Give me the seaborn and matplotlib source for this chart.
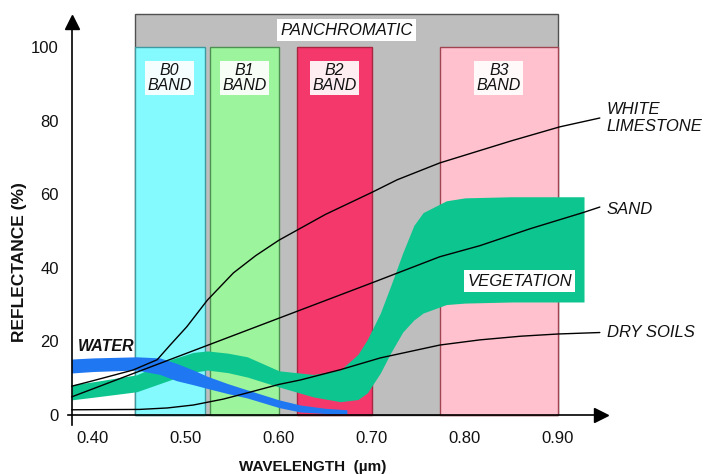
import matplotlib
matplotlib.use("Agg")
import matplotlib.pyplot as plt
import seaborn as sns
import pandas as pd

# ---------------- data ----------------
wavelength_ticks = [0.40, 0.50, 0.60, 0.70, 0.80, 0.90]
reflectance_ticks = [0, 20, 40, 60, 80, 100]

pan_start, pan_end, pan_top = 0.445, 0.900, 109
band_labels = ["B0\nBAND", "B1\nBAND", "B2\nBAND", "B3\nBAND"]
band_start = [0.445, 0.526, 0.619, 0.773]
band_end = [0.520, 0.600, 0.700, 0.900]
band_top = 100

veg_x = [0.377, 0.40, 0.447, 0.483, 0.508, 0.523, 0.545, 0.566, 0.60, 0.637, 0.666,
         0.685, 0.695, 0.709, 0.72, 0.733, 0.745, 0.755, 0.78, 0.80, 0.85, 0.928]
veg_upper = [8.2, 9.0, 10.9, 15.0, 17.0, 17.4, 16.8, 15.8, 12.0, 11.0, 12.2,
             16.5, 20.5, 27.7, 35.0, 44.0, 51.5, 55.0, 58.2, 59.0, 59.3, 59.3]
veg_lower = [4.1, 4.8, 6.3, 9.5, 11.6, 12.2, 11.5, 10.3, 7.6, 4.9, 3.6,
             4.2, 6.0, 11.4, 16.8, 22.5, 25.8, 27.7, 30.0, 30.4, 30.7, 30.7]

water_x = [0.377, 0.40, 0.447, 0.472, 0.49, 0.508, 0.523, 0.545, 0.566, 0.60, 0.623, 0.65, 0.673]
water_upper = [15.2, 15.5, 15.8, 15.5, 14.0, 12.2, 10.5, 8.5, 6.8, 4.1, 2.7, 1.8, 1.4]
water_lower = [11.4, 11.8, 12.2, 11.0, 9.3, 8.2, 7.2, 5.8, 4.6, 2.0, 0.8, 0.4, 0.3]

limestone_x = [0.377, 0.40, 0.443, 0.469, 0.483, 0.501, 0.523, 0.551, 0.575, 0.60,
               0.65, 0.70, 0.727, 0.773, 0.85, 0.902, 0.945]
limestone_y = [7.8, 9.3, 12.2, 15.0, 19.0, 24.0, 31.2, 38.6, 43.3, 47.5,
               54.5, 60.5, 63.9, 68.5, 74.5, 78.3, 80.7]

sand_x = [0.377, 0.45, 0.50, 0.55, 0.60, 0.65, 0.70, 0.773, 0.816, 0.87, 0.927, 0.945]
sand_y = [4.9, 11.9, 16.7, 21.5, 26.3, 31.1, 35.9, 43.0, 46.0, 50.6, 55.0, 56.5]

soil_x = [0.377, 0.45, 0.48, 0.508, 0.54, 0.566, 0.60, 0.623, 0.666, 0.709,
          0.773, 0.816, 0.86, 0.90, 0.945]
soil_y = [1.4, 1.5, 1.9, 2.7, 4.3, 6.0, 8.3, 9.5, 12.3, 15.5,
          19.0, 20.4, 21.4, 22.0, 22.4]

curve_names = ["WHITE\nLIMESTONE", "SAND", "DRY SOILS"]

# ---------------- style ----------------
sns.set_theme(style="white")
plt.rcParams['font.family'] = ['Liberation Sans', 'DejaVu Sans']

band_colors = ["#84FAFF", "#9CF59C", "#F5386C", "#FFC1CD"]
band_edges = ["#3E9A9E", "#4E8F52", "#A8263F", "#A04452"]
pan_color, pan_edge = "#BEBEBE", "#505050"
veg_color = "#0DC68F"
water_color = "#1F78F2"

fig = plt.figure(figsize=(7.05, 4.74), dpi=100)
ax = fig.add_axes([0.0923, 0.1013, 0.7783, 0.8772])
ax.set_xlim(0.370, 0.960)
ax.set_ylim(-3, 110)

# panchromatic & bands
ax.bar(pan_start, pan_top, width=pan_end - pan_start, align='edge',
       color=pan_color, edgecolor=pan_edge, linewidth=1.0, zorder=1)
ax.bar(band_start, band_top, width=[e - s for s, e in zip(band_start, band_end)],
       align='edge', color=band_colors, edgecolor=band_edges, linewidth=1.0, zorder=2)

# vegetation & water bands
ax.fill_between(veg_x, veg_lower, veg_upper, color=veg_color, linewidth=0, zorder=3)
ax.fill_between(water_x, water_lower, water_upper, color=water_color, linewidth=0, zorder=4)

# curves
curves = pd.concat([
    pd.DataFrame({"wavelength": limestone_x, "reflectance": limestone_y, "material": curve_names[0]}),
    pd.DataFrame({"wavelength": sand_x, "reflectance": sand_y, "material": curve_names[1]}),
    pd.DataFrame({"wavelength": soil_x, "reflectance": soil_y, "material": curve_names[2]}),
])
for name, grp in curves.groupby("material", sort=False):
    sns.lineplot(data=grp, x="wavelength", y="reflectance", ax=ax, color="black",
                 linewidth=1.0, estimator=None, sort=False, legend=False, zorder=5)

# curve labels
label_x = 0.9527
ax.text(label_x, limestone_y[-1], curve_names[0], ha='left', va='center', fontsize=12,
        style='italic', linespacing=1.1, color='#111111')
ax.text(label_x, sand_y[-1] - 0.8, curve_names[1], ha='left', va='center', fontsize=12,
        style='italic', color='#111111')
ax.text(label_x, soil_y[-1] - 0.1, curve_names[2], ha='left', va='center', fontsize=12,
        style='italic', color='#111111')

ax.text(0.384, 18.5, "WATER", ha='left', va='center', fontsize=11.5, style='italic',
        fontweight='bold', color='#111111', zorder=7)
ax.text(0.859, 36.4, "VEGETATION", ha='center', va='center', fontsize=12, style='italic',
        color='#111111', zorder=7,
        bbox=dict(boxstyle='square,pad=0.2', fc='white', ec='none'))
ax.text((pan_start + pan_end) / 2 + 0.0, 104.6, "PANCHROMATIC", ha='center', va='center',
        fontsize=12, style='italic', color='#111111', zorder=7,
        bbox=dict(boxstyle='square,pad=0.2', fc='white', ec='none'))
for lab, s, e in zip(band_labels, band_start, band_end):
    ax.text((s + e) / 2, 91.6, lab, ha='center', va='center', fontsize=11.5, style='italic',
            linespacing=0.95, color='#111111', zorder=7,
            bbox=dict(boxstyle='square,pad=0.15', fc='white', ec='none', alpha=0.92))

# axes
for s in ['top', 'right']:
    ax.spines[s].set_visible(False)
ax.spines['left'].set_position(('data', 0.377))
ax.spines['bottom'].set_position(('data', 0))
ax.spines['left'].set_bounds(-2.7, 106.8)
ax.spines['bottom'].set_bounds(0.373, 0.946)
for s in ['left', 'bottom']:
    ax.spines[s].set_color('black')
    ax.spines[s].set_linewidth(1.2)
    ax.spines[s].set_zorder(8)

ax.plot([0.9462], [0], marker='>', ms=10, color='black', clip_on=False, zorder=9)
ax.plot([0.377], [106.8], marker='^', ms=10, color='black', clip_on=False, zorder=9)

ax.set_xticks(wavelength_ticks)
ax.set_xticklabels([f"{v:.2f}" for v in wavelength_ticks])
ax.set_yticks(reflectance_ticks)
ax.set_yticklabels([str(v) for v in reflectance_ticks])
ax.tick_params(axis='both', direction='inout', length=15, width=1.2, color='black',
               labelsize=12, labelcolor='#111111')
ax.tick_params(axis='x', pad=4)
ax.tick_params(axis='y', pad=1.8)
ax.set_xlabel("")
ax.set_ylabel("")

fig.text(20 / 705, 1 - 262 / 474, "REFLECTANCE (%)", rotation=90, ha='center', va='center',
         fontsize=12.5, fontweight='bold', color='#111111')
fig.text(313 / 705, 1 - 467 / 474, "WAVELENGTH  (\u00b5m)", ha='center', va='center',
         fontsize=11, fontweight='bold', color='#111111')

fig.savefig("out.png", dpi=100, facecolor='white')
